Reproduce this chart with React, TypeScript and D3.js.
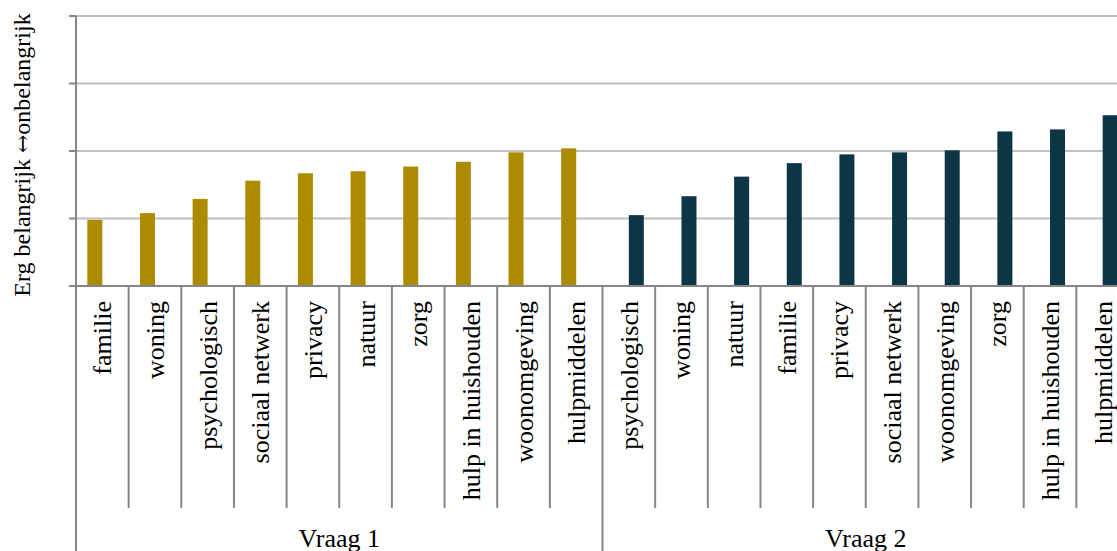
import { useEffect, useRef } from 'react';
import * as d3 from 'd3';

// Categories per question (in chart order)
const vraag1Labels = ['familie', 'woning', 'psychologisch', 'sociaal netwerk', 'privacy', 'natuur', 'zorg', 'hulp in huishouden', 'woonomgeving', 'hulpmiddelen'];
const vraag1Values = [0.98, 1.08, 1.29, 1.56, 1.67, 1.70, 1.77, 1.84, 1.98, 2.04];

const vraag2Labels = ['psychologisch', 'woning', 'natuur', 'familie', 'privacy', 'sociaal netwerk', 'woonomgeving', 'zorg', 'hulp in huishouden', 'hulpmiddelen'];
const vraag2Values = [1.05, 1.33, 1.62, 1.82, 1.95, 1.98, 2.01, 2.29, 2.32, 2.53];

const groups = ['Vraag 1', 'Vraag 2'];
const yTicks = [0, 1, 2, 3, 4];
const yTitleParts = ['Erg belangrijk ', '\u2194', 'onbelangrijk'];

type Row = { group: string, label: string, key: string, value: number };

const rows: Row[] = [
    ...vraag1Labels.map((l, i) => ({ group: 'Vraag 1', label: l, key: 'Vraag 1|' + l, value: vraag1Values[i] })),
    ...vraag2Labels.map((l, i) => ({ group: 'Vraag 2', label: l, key: 'Vraag 2|' + l, value: vraag2Values[i] })),
];

const colors: { [k: string]: string } = { 'Vraag 1': '#ad8b00', 'Vraag 2': '#0c3646' };

export default function App() {
    const ref = useRef<SVGSVGElement>(null);

    useEffect(() => {
        const W = 1117, H = 551;
        const left = 76, top = 16, bottom = 286;
        const step = 52.65;
        const right = left + step * rows.length;
        const serif = '"Liberation Serif", "Times New Roman", serif';

        const svg = d3.select(ref.current);
        svg.selectAll('*').remove();

        const x = d3.scaleBand<string>().domain(rows.map(r => r.key)).range([left, right]).padding(0);
        const xs = d3.scaleBand<string>().domain(groups).range([0, x.bandwidth()]).paddingInner(0).paddingOuter(0.755);
        const y = d3.scaleLinear().domain([0, 4]).range([bottom, top]);

        // gridlines
        svg.append('g')
            .selectAll('line')
            .data(yTicks.slice(1))
            .join('line')
            .attr('x1', left).attr('x2', right)
            .attr('y1', d => y(d)).attr('y2', d => y(d))
            .attr('stroke', '#c0c0c0').attr('stroke-width', 2);

        // bars
        svg.append('g')
            .selectAll('rect')
            .data(rows)
            .join('rect')
            .attr('x', d => x(d.key)! + xs(d.group)!)
            .attr('width', xs.bandwidth())
            .attr('y', d => y(d.value))
            .attr('height', d => y(0) - y(d.value))
            .attr('fill', d => colors[d.group]);

        const axisColor = '#868686';

        // y axis line + ticks
        svg.append('line')
            .attr('x1', left).attr('x2', left).attr('y1', top).attr('y2', H)
            .attr('stroke', axisColor).attr('stroke-width', 2);
        svg.append('g')
            .selectAll('line')
            .data(yTicks)
            .join('line')
            .attr('x1', left - 7).attr('x2', left)
            .attr('y1', d => y(d)).attr('y2', d => y(d))
            .attr('stroke', axisColor).attr('stroke-width', 2);

        // x axis line
        svg.append('line')
            .attr('x1', left).attr('x2', right).attr('y1', bottom).attr('y2', bottom)
            .attr('stroke', axisColor).attr('stroke-width', 2);

        // category dividers
        const boundaries = rows.map(r => x(r.key)!).concat([right]);
        svg.append('g')
            .selectAll('line')
            .data(boundaries)
            .join('line')
            .attr('x1', d => d).attr('x2', d => d)
            .attr('y1', bottom)
            .attr('y2', (d, i) => (i % 10 === 0) ? H : 508)
            .attr('stroke', axisColor).attr('stroke-width', 2);

        // category labels
        svg.append('g')
            .selectAll('text')
            .data(rows)
            .join('text')
            .attr('transform', d => `translate(${x(d.key)! + x.bandwidth() / 2 + 9}, 301) rotate(-90)`)
            .attr('text-anchor', 'end')
            .attr('font-family', serif)
            .attr('font-size', 26)
            .attr('fill', '#000')
            .text(d => d.label);

        // group labels
        svg.append('g')
            .selectAll('text')
            .data(groups)
            .join('text')
            .attr('x', (g, i) => left + step * 10 * i + step * 5)
            .attr('y', 547)
            .attr('text-anchor', 'middle')
            .attr('font-family', serif)
            .attr('font-size', 26)
            .attr('fill', '#000')
            .text(g => g);

        // y title
        const title = svg.append('text')
            .attr('transform', `translate(30, ${(top + bottom) / 2 + 4}) rotate(-90)`)
            .attr('text-anchor', 'middle')
            .attr('font-family', serif)
            .attr('font-size', 24)
            .attr('fill', '#000');
        title.selectAll('tspan')
            .data(yTitleParts)
            .join('tspan')
            .attr('font-family', (d, i) => i === 1 ? '"DejaVu Serif", serif' : serif)
            .attr('font-size', (d, i) => i === 1 ? 22 : 24)
            .text(d => d);

        svg.attr('width', W).attr('height', H);
    }, []);

    return <svg ref={ref} width={1117} height={551} style={{ position: 'absolute', left: 0, top: 0, background: '#fff' }}></svg>;
}
